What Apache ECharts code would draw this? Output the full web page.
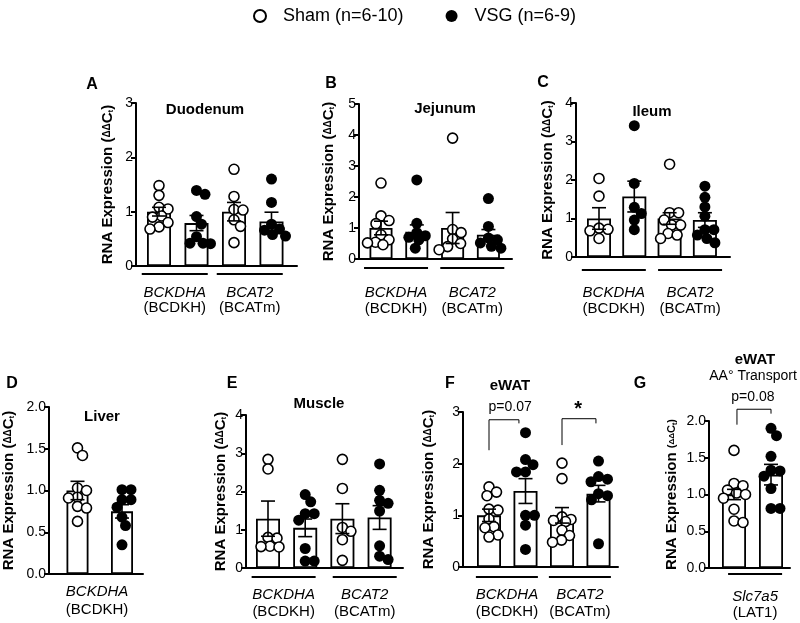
<!DOCTYPE html>
<html><head><meta charset="utf-8">
<script src="https://cdn.jsdelivr.net/npm/echarts@6/dist/echarts.min.js"></script>
<style>html,body{margin:0;padding:0;background:#fff}#c{width:800px;height:623px}</style>
</head><body><div id="c"></div>
<script>
const FONT = '"Liberation Sans", Arial, Helvetica, sans-serif';

// ---------- labels ----------
const legendNames = ['Sham (n=6-10)', 'VSG (n=6-9)'];
const geneLabels = ['BCKDHA', 'BCAT2'];
const proteinLabels = ['(BCDKH)', '(BCATm)'];
const liverGene = ['BCKDHA'];
const liverProtein = ['(BCDKH)'];
const transportGene = ['Slc7a5'];
const transportProtein = ['(LAT1)'];
const panelLetters = ['A', 'B', 'C', 'D', 'E', 'F', 'G'];
const panelTitles = ['Duodenum', 'Jejunum', 'Ileum', 'Liver', 'Muscle', 'eWAT', 'eWAT'];
const transportSubtitle = 'AA\u00B0 Transport';
const yMaxes = [3, 5, 4, 2, 4, 3, 2];
const yIntervals = [1, 1, 1, 0.5, 1, 1, 0.5];
const eWatPValues = ['p=0.07', '*'];
const latPValues = ['p=0.08'];

// ---------- A: Duodenum ----------
const duoMeans = [1.00, 0.79, 1.00, 0.82];
const duoSems = [0.08, 0.14, 0.17, 0.17];
const duoShamBckdha = [1.48, 1.30, 1.08, 1.05, 0.92, 0.90, 0.80, 0.72, 0.68];
const duoVsgBckdha = [1.39, 1.32, 0.91, 0.77, 0.54, 0.42, 0.41, 0.42];
const duoShamBcat2 = [1.78, 1.28, 1.04, 1.03, 0.85, 0.73, 0.43];
const duoVsgBcat2 = [1.60, 1.17, 0.77, 0.68, 0.66, 0.58, 0.55];

// ---------- B: Jejunum ----------
const jejMeans = [1.00, 0.88, 1.00, 0.78];
const jejSems = [0.22, 0.22, 0.50, 0.17];
const jejShamBckdha = [2.45, 1.39, 1.24, 1.14, 0.78, 0.62, 0.54, 0.46, 0.52];
const jejVsgBckdha = [2.55, 1.15, 0.85, 0.75, 0.70, 0.62, 0.35];
const jejShamBcat2 = [3.90, 0.95, 0.85, 0.65, 0.50, 0.40, 0.30];
const jejVsgBcat2 = [1.95, 1.05, 0.68, 0.62, 0.52, 0.41, 0.35];

// ---------- C: Ileum ----------
const ileMeans = [1.00, 1.57, 1.00, 0.96];
const ileSems = [0.28, 0.40, 0.15, 0.19];
const ileShamBckdha = [2.04, 1.58, 0.75, 0.72, 0.68, 0.48];
const ileVsgBckdha = [3.41, 1.91, 1.29, 1.13, 0.96, 0.71];
const ileShamBcat2 = [2.41, 1.15, 1.15, 0.96, 0.83, 0.83, 0.61, 0.57, 0.48];
const ileVsgBcat2 = [1.84, 1.55, 1.30, 1.06, 0.71, 0.71, 0.57, 0.48, 0.37];

// ---------- D: Liver ----------
const livMeans = [1.00, 0.75];
const livSems = [0.11, 0.08];
const livSham = [1.51, 1.42, 1.03, 1.00, 0.92, 0.91, 0.81, 0.79, 0.63];
const livVsg = [1.01, 1.01, 0.89, 0.89, 0.80, 0.68, 0.58, 0.35];

// ---------- E: Muscle ----------
const musMeans = [1.29, 1.05, 1.29, 1.32];
const musSems = [0.46, 0.23, 0.39, 0.31];
const musShamBckdha = [2.84, 2.59, 0.80, 0.78, 0.57, 0.56, 0.55];
const musVsgBckdha = [1.92, 1.73, 1.42, 1.42, 1.25, 0.51, 0.18, 0.18];
const musShamBcat2 = [2.84, 2.08, 1.06, 0.96, 0.74, 0.20];
const musVsgBcat2 = [2.72, 2.03, 1.77, 1.69, 1.49, 0.58, 0.31, 0.22];

// ---------- F: eWAT ----------
const watMeans = [1.00, 1.47, 1.00, 1.42];
const watSems = [0.12, 0.24, 0.15, 0.16];
const watShamBckdha = [1.55, 1.45, 1.38, 1.12, 1.10, 0.93, 0.78, 0.76, 0.62, 0.58];
const watVsgBckdha = [2.60, 2.08, 1.98, 1.84, 1.84, 1.00, 1.00, 0.81, 0.34];
const watShamBcat2 = [2.01, 1.71, 0.97, 0.92, 0.90, 0.88, 0.71, 0.61, 0.52, 0.48];
const watVsgBcat2 = [2.05, 1.75, 1.70, 1.65, 1.42, 1.38, 1.30, 0.45];

// ---------- G: eWAT AA transport ----------
const latMeans = [1.00, 1.27];
const latSems = [0.07, 0.14];
const latSham = [1.60, 1.15, 1.12, 1.06, 1.02, 1.00, 0.95, 0.80, 0.64, 0.62];
const latVsg = [1.90, 1.80, 1.52, 1.33, 1.32, 1.25, 1.08, 0.81, 0.81];

const panels = [
  { means: duoMeans, sems: duoSems, groups: [duoShamBckdha, duoVsgBckdha, duoShamBcat2, duoVsgBcat2], genes: geneLabels, prots: proteinLabels },
  { means: jejMeans, sems: jejSems, groups: [jejShamBckdha, jejVsgBckdha, jejShamBcat2, jejVsgBcat2], genes: geneLabels, prots: proteinLabels },
  { means: ileMeans, sems: ileSems, groups: [ileShamBckdha, ileVsgBckdha, ileShamBcat2, ileVsgBcat2], genes: geneLabels, prots: proteinLabels },
  { means: livMeans, sems: livSems, groups: [livSham, livVsg], genes: liverGene, prots: liverProtein },
  { means: musMeans, sems: musSems, groups: [musShamBckdha, musVsgBckdha, musShamBcat2, musVsgBcat2], genes: geneLabels, prots: proteinLabels },
  { means: watMeans, sems: watSems, groups: [watShamBckdha, watVsgBckdha, watShamBcat2, watVsgBcat2], genes: geneLabels, prots: proteinLabels, pvals: eWatPValues },
  { means: latMeans, sems: latSems, groups: [latSham, latVsg], genes: transportGene, prots: transportProtein, pvals: latPValues, smallName: true }
];

// ---------- layout (pixels) ----------
const layouts = [
  { axisX: 136, right: 297, top: 103, bottom: 266, slot0: 159, step: 37.5, barW: 24, nameGap: 21, ul: 274, ulHalf: 33, lab1: 293, lab2: 308, groupC: [0.42, 2.42], letter: [92, 85], title: [205, 110] },
  { axisX: 359, right: 512, top: 104, bottom: 259, slot0: 381, step: 35.8, barW: 23, nameGap: 23, ul: 268, ulHalf: 32, lab1: 293, lab2: 309, groupC: [0.42, 2.55], letter: [331, 84], title: [445, 109] },
  { axisX: 576, right: 730, top: 103, bottom: 257, slot0: 599, step: 35.3, barW: 24, nameGap: 21, ul: 270, ulHalf: 32, lab1: 293, lab2: 309, groupC: [0.42, 2.58], letter: [543, 83], title: [652, 112] },
  { axisX: 49, right: 143, top: 407, bottom: 574, slot0: 77.5, step: 44.5, barW: 22, nameGap: 33, ul: null, lab1: 592, lab2: 610, groupC: [0.44], letter: [12, 384], title: [102, 417] },
  { axisX: 246, right: 403, top: 415, bottom: 568, slot0: 268, step: 37.2, barW: 24, nameGap: 18, ul: 577, ulHalf: 32, lab1: 595, lab2: 612, groupC: [0.42, 2.6], letter: [232, 384], title: [319, 404] },
  { axisX: 463, right: 618, top: 412, bottom: 567, slot0: 489, step: 36.5, barW: 24, nameGap: 27, ul: 577, ulHalf: 31, lab1: 595, lab2: 612, groupC: [0.49, 2.49], letter: [450, 384], title: [510, 386],
    brackets: [ { x: [0, 0.82], top: 2.85, ends: [2.26, 2.78], text: [0.58, 3.09], font: '14px ' + FONT },
                { x: [2, 2.93], top: 2.87, ends: [2.36, 2.78], text: [2.44, 3.05], font: 'bold 20px ' + FONT } ] },
  { axisX: 709, right: 790, top: 421, bottom: 568, slot0: 734, step: 37, barW: 24, nameGap: 30, ul: 574, ulHalf: 27, lab1: 597, lab2: 613, groupC: [0.57], letter: [640, 384], title: [755, 360], subtitle: [753, 376],
    brackets: [ { x: [0.08, 1.0], top: 2.16, ends: [1.95, 2.10], text: [0.51, 2.33], font: '14px ' + FONT } ] }
];

// deterministic compact beeswarm: sideways pixel offsets, limited to about the bar width
function swarm(values, pxPerUnit, diam, maxOff) {
  const order = values.map((v, i) => i).sort((a, b) => values[b] - values[a]);
  const placed = [];
  const offs = new Array(values.length).fill(0);
  for (const i of order) {
    const y = values[i] * pxPerUnit;
    let chosen = null, best = -1, bestDx = 0;
    for (let k = 0; k < 400; k++) {
      const dx = (k % 2 === 1 ? 1 : -1) * Math.ceil(k / 2) * 0.5;
      if (Math.abs(dx) > maxOff) break;
      let md = Infinity;
      for (const q of placed) md = Math.min(md, Math.hypot(q.x - dx, q.y - y));
      if (md >= diam) { chosen = dx; break; }
      if (md > best + 0.01) { best = md; bestDx = dx; }
    }
    if (chosen === null) chosen = bestDx;
    offs[i] = chosen;
    placed.push({ x: chosen, y: y });
  }
  return offs;
}

const grids = [], xAxes = [], yAxes = [], series = [], graphics = [];

panels.forEach((P, i) => {
  const L = layouts[i];
  const xMin = (L.axisX - L.slot0) / L.step;
  const xMax = (L.right - L.slot0) / L.step;
  grids.push({ left: L.axisX, top: L.top, width: L.right - L.axisX, height: L.bottom - L.top, containLabel: false, outerBoundsMode: 'none' });
  xAxes.push({
    gridIndex: i, type: 'value', min: xMin, max: xMax,
    axisLine: { show: true, onZero: false, lineStyle: { color: '#000', width: 2 } },
    axisTick: { show: false }, axisLabel: { show: false }, splitLine: { show: false }
  });
  const dec = yIntervals[i] < 1 ? 1 : 0;
  const nameStr = P.smallName
    ? '{n|RNA Expression }{p|(}{d|\u0394\u0394}{p|C}{t|t}{p|)}'
    : '{n|RNA Expression (}{d|\u0394\u0394}{n|C}{t|t}{n|)}';
  yAxes.push({
    gridIndex: i, type: 'value', min: 0, max: yMaxes[i], interval: yIntervals[i],
    axisLine: { show: true, onZero: false, lineStyle: { color: '#000', width: 2 } },
    axisTick: { show: true, length: 5, inside: false, lineStyle: { color: '#000', width: 2 } },
    splitLine: { show: false },
    axisLabel: { color: '#000', fontSize: 14, fontFamily: FONT, margin: 3, formatter: v => v.toFixed(dec) },
    name: nameStr, nameLocation: 'middle', nameGap: L.nameGap, nameMoveOverlap: false,
    nameTextStyle: {
      fontFamily: FONT, fontWeight: 'bold', fontSize: 15, color: '#000',
      rich: {
        n: { fontFamily: FONT, fontWeight: 'bold', fontSize: 15, color: '#000' },
        p: { fontFamily: FONT, fontWeight: 'bold', fontSize: 11, color: '#000' },
        d: { fontFamily: FONT, fontWeight: 'bold', fontSize: P.smallName ? 8 : 10, color: '#000' },
        t: { fontFamily: FONT, fontWeight: 'bold', fontSize: P.smallName ? 7 : 8, color: '#000', verticalAlign: 'bottom' }
      }
    }
  });

  const pxPerUnit = (L.bottom - L.top) / yMaxes[i];

  series.push({
    type: 'bar', xAxisIndex: i, yAxisIndex: i, barWidth: L.barW, silent: true, z: 2,
    data: P.means.map((m, k) => [k, m]),
    itemStyle: { color: '#fff', borderColor: '#000', borderWidth: 1.8 }
  });

  const shamData = [], vsgData = [];
  P.groups.forEach((vals, k) => {
    const offs = swarm(vals, pxPerUnit, 9, L.barW / 2 + 2);
    vals.forEach((v, j) => {
      (k % 2 === 0 ? shamData : vsgData).push({ value: [k, v], symbolOffset: [offs[j], 0] });
    });
  });
  series.push({
    type: 'scatter', name: legendNames[0], xAxisIndex: i, yAxisIndex: i, symbol: 'circle', symbolSize: 10, z: 4, clip: false, silent: true,
    data: shamData, itemStyle: { color: '#fff', borderColor: '#000', borderWidth: 1.6, opacity: 1 }
  });
  series.push({
    type: 'scatter', name: legendNames[1], xAxisIndex: i, yAxisIndex: i, symbol: 'circle', symbolSize: 11, z: 4, clip: false, silent: true,
    data: vsgData, itemStyle: { color: '#000', opacity: 1 }
  });

  // error bars (mean ± SEM)
  series.push({
    type: 'custom', xAxisIndex: i, yAxisIndex: i, z: 5, clip: false, silent: true,
    data: P.means.map((m, k) => [k, m - P.sems[k], m + P.sems[k]]),
    encode: { x: 0, y: [1, 2] },
    renderItem: function (params, api) {
      const x = api.value(0);
      const lo = api.coord([x, api.value(1)]);
      const hi = api.coord([x, api.value(2)]);
      const cap = 7;
      const st = { stroke: '#000', lineWidth: 1.6, fill: null };
      return { type: 'group', children: [
        { type: 'line', shape: { x1: lo[0], y1: lo[1], x2: hi[0], y2: hi[1] }, style: st },
        { type: 'line', shape: { x1: hi[0] - cap, y1: hi[1], x2: hi[0] + cap, y2: hi[1] }, style: st },
        { type: 'line', shape: { x1: lo[0] - cap, y1: lo[1], x2: lo[0] + cap, y2: lo[1] }, style: st }
      ] };
    }
  });

  // group labels + underlines
  series.push({
    type: 'custom', xAxisIndex: i, yAxisIndex: i, z: 5, clip: false, silent: true,
    data: L.groupC.map((c, k) => [c, 0, k]),
    encode: { x: 0, y: 1 },
    renderItem: function (params, api) {
      const k = api.value(2);
      const p = api.coord([api.value(0), 0]);
      const ch = [];
      if (L.ul) ch.push({ type: 'line', shape: { x1: p[0] - L.ulHalf, y1: L.ul, x2: p[0] + L.ulHalf, y2: L.ul }, style: { stroke: '#000', lineWidth: 2.2 } });
      ch.push({ type: 'text', x: p[0], y: L.lab1, style: { text: P.genes[k], font: 'italic 15px ' + FONT, fill: '#000', align: 'center', verticalAlign: 'middle', textAlign: 'center', textVerticalAlign: 'middle' } });
      ch.push({ type: 'text', x: p[0], y: L.lab2, style: { text: P.prots[k], font: '15px ' + FONT, fill: '#000', align: 'center', verticalAlign: 'middle', textAlign: 'center', textVerticalAlign: 'middle' } });
      return { type: 'group', children: ch };
    }
  });

  // significance brackets
  if (L.brackets) {
    series.push({
      type: 'custom', xAxisIndex: i, yAxisIndex: i, z: 5, clip: false, silent: true,
      data: L.brackets.map((b, k) => [b.x[0], b.top, k]),
      encode: { x: 0, y: 1 },
      renderItem: function (params, api) {
        const k = api.value(2);
        const b = L.brackets[k];
        const a1 = api.coord([b.x[0], b.ends[0]]);
        const a2 = api.coord([b.x[0], b.top]);
        const a3 = api.coord([b.x[1], b.top]);
        const a4 = api.coord([b.x[1], b.ends[1]]);
        const t = api.coord(b.text);
        return { type: 'group', children: [
          { type: 'polyline', shape: { points: [a1, a2, a3, a4] }, style: { stroke: '#000', lineWidth: 1, fill: null } },
          { type: 'text', x: t[0], y: t[1], style: { text: P.pvals[k], font: b.font, fill: '#000', align: 'center', verticalAlign: 'middle', textAlign: 'center', textVerticalAlign: 'middle' } }
        ] };
      }
    });
  }

  graphics.push({ type: 'text', x: L.letter[0], y: L.letter[1], style: { text: panelLetters[i], font: 'bold 16px ' + FONT, fill: '#000', align: 'center', verticalAlign: 'middle', textAlign: 'center', textVerticalAlign: 'middle' } });
  graphics.push({ type: 'text', x: L.title[0], y: L.title[1], style: { text: panelTitles[i], font: 'bold 15px ' + FONT, fill: '#000', align: 'center', verticalAlign: 'middle', textAlign: 'center', textVerticalAlign: 'middle' } });
  if (L.subtitle) graphics.push({ type: 'text', x: L.subtitle[0], y: L.subtitle[1], style: { text: transportSubtitle, font: '14px ' + FONT, fill: '#000', align: 'center', verticalAlign: 'middle', textAlign: 'center', textVerticalAlign: 'middle' } });
});

const chart = echarts.init(document.getElementById('c'), null, { renderer: 'canvas' });
chart.setOption({
  backgroundColor: '#fff',
  animation: false,
  textStyle: { fontFamily: FONT },
  legend: {
    data: legendNames, left: 248, top: 2, icon: 'circle', itemWidth: 36, itemHeight: 12, itemGap: 42,
    selectedMode: false, textStyle: { fontSize: 18, color: '#000', fontFamily: FONT }
  },
  grid: grids, xAxis: xAxes, yAxis: yAxes, series: series, graphic: graphics
});
</script>
</body></html>
